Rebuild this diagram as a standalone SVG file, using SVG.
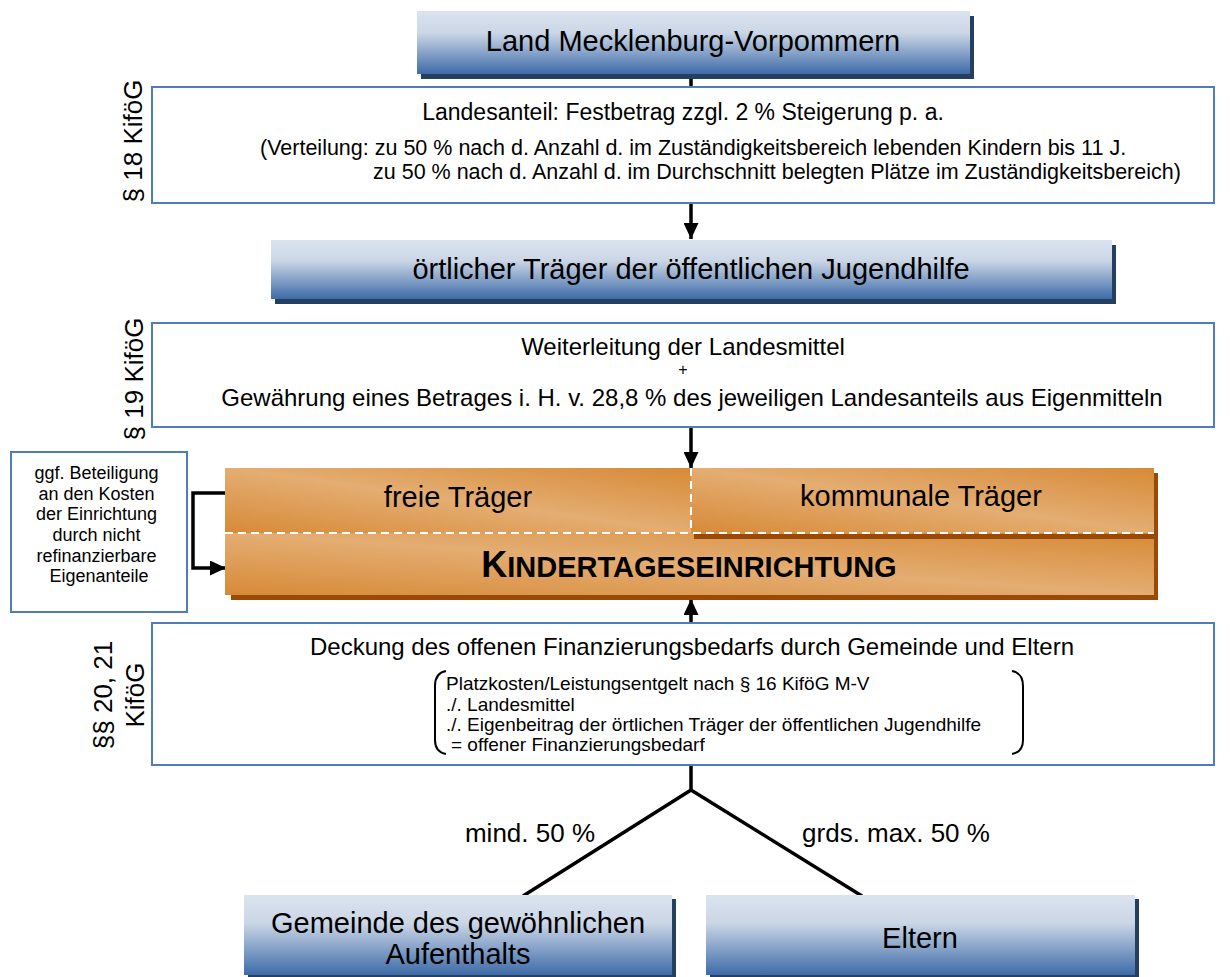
<svg xmlns="http://www.w3.org/2000/svg" width="1230" height="977" viewBox="0 0 1230 977">
<defs>
<linearGradient id="blue" x1="0" y1="0" x2="0" y2="1">
<stop offset="0" stop-color="#dbe3ef"/>
<stop offset="0.35" stop-color="#cbd6e6"/>
<stop offset="1" stop-color="#3d6ba8"/>
</linearGradient>
<linearGradient id="orange" x1="0" y1="1" x2="1" y2="0">
<stop offset="0" stop-color="#d78a37"/>
<stop offset="0.5" stop-color="#e4ad72"/>
<stop offset="1" stop-color="#d78a37"/>
</linearGradient>
<marker id="ah" viewBox="0 0 16 15" refX="16" refY="7.5" markerWidth="16" markerHeight="15" markerUnits="userSpaceOnUse" orient="auto">
<path d="M0,0 L16,7.5 L0,15 Z" fill="#000"/>
</marker>
<style>
text{font-family:"Liberation Sans",Arial,sans-serif;fill:#000}
.title{font-size:29px;text-anchor:middle}
.body{font-size:24px;text-anchor:middle}
.small{font-size:21.5px}
.side{font-size:26px;text-anchor:middle}
.box{fill:#fff;stroke:#4f7dba;stroke-width:2}
.shadowB{fill:#243f60}
.blue{fill:url(#blue)}
.or{fill:url(#orange)}
.shadowO{fill:#9a4a06}
.conn{stroke:#000;stroke-width:3.5;fill:none}
.dash{stroke:#fff;stroke-width:2;stroke-dasharray:8 5;fill:none}
.br{font-size:19px}
.paren{fill:none;stroke:#000;stroke-width:2}
</style>
</defs>

<g id="connectors">
<line class="conn" x1="691" y1="78" x2="691" y2="87"/>
<line class="conn" x1="691" y1="203" x2="691" y2="239" marker-end="url(#ah)"/>
<line class="conn" x1="691" y1="427" x2="691" y2="468" marker-end="url(#ah)"/>
<line class="conn" x1="691" y1="623" x2="691" y2="599" marker-end="url(#ah)"/>
<polyline class="conn" points="225,493 193,493 193,568 226,568" marker-end="url(#ah)"/>
<polyline class="conn" points="691,765 691,790 523,896"/>
<line class="conn" x1="691" y1="790" x2="862" y2="896"/>
</g>

<g id="land">
<rect class="shadowB" x="421" y="16" width="553" height="63"/>
<rect class="blue" x="417" y="11" width="553" height="63"/>
<text class="title" x="693" y="51">Land Mecklenburg-Vorpommern</text>
</g>

<g id="p18">
<rect class="box" x="152" y="87" width="1062" height="116"/>
<text class="body" x="683" y="120" style="font-size:23px">Landesanteil: Festbetrag zzgl. 2 % Steigerung p. a.</text>
<text class="small" x="260" y="155">(Verteilung: zu 50 % nach d. Anzahl d. im Zuständigkeitsbereich lebenden Kindern bis 11 J.</text>
<text class="small" x="373" y="179">zu 50 % nach d. Anzahl d. im Durchschnitt belegten Plätze im Zuständigkeitsbereich)</text>
<text class="side" transform="translate(142,141) rotate(-90)">§ 18 KiföG</text>
</g>

<g id="oertlich">
<rect class="shadowB" x="275" y="245" width="841" height="59"/>
<rect class="blue" x="271" y="240" width="841" height="59"/>
<text class="title" x="691" y="279">örtlicher Träger der öffentlichen Jugendhilfe</text>
</g>

<g id="p19">
<rect class="box" x="152" y="323" width="1062" height="104"/>
<text class="body" x="683" y="355">Weiterleitung der Landesmittel</text>
<text class="body" x="683" y="375" style="font-size:16px">+</text>
<text class="body" x="692" y="406">Gewährung eines Betrages i. H. v. 28,8 % des jeweiligen Landesanteils aus Eigenmitteln</text>
<text class="side" transform="translate(143,379) rotate(-90)">§ 19 KiföG</text>
</g>

<g id="ggf">
<rect class="box" x="11" y="452" width="176" height="160"/>
<text style="font-size:18px;text-anchor:middle">
<tspan x="99" y="479">ggf. Beteiligung</tspan>
<tspan x="99" y="500">an den Kosten</tspan>
<tspan x="99" y="520">der Einrichtung</tspan>
<tspan x="99" y="541">durch nicht</tspan>
<tspan x="99" y="562">refinanzierbare</tspan>
<tspan x="99" y="582">Eigenanteile</tspan>
</text>
</g>

<g id="kita">
<rect class="shadowO" x="231" y="473" width="927" height="127"/>
<rect class="or" x="225" y="468" width="466" height="65"/>
<rect class="or" x="691" y="468" width="463" height="65"/>
<rect class="or" x="225" y="533" width="929" height="62"/>
<rect class="shadowO" x="694" y="534" width="464" height="5"/>
<line class="dash" x1="225" y1="533" x2="1154" y2="533"/>
<line class="dash" x1="691" y1="468" x2="691" y2="533"/>
<text class="title" x="458" y="507">freie Träger</text>
<text class="title" x="921" y="506">kommunale Träger</text>
<text x="689" y="577" style="font-weight:bold;text-anchor:middle;font-size:29px"><tspan style="font-size:36px">K</tspan>INDERTAGESEINRICHTUNG</text>
</g>

<g id="p2021">
<rect class="box" x="152" y="623" width="1062" height="142"/>
<text class="body" x="692" y="655">Deckung des offenen Finanzierungsbedarfs durch Gemeinde und Eltern</text>
<path class="paren" d="M446,671 Q435,673 435,686 L435,740 Q435,752 446,754"/>
<path class="paren" d="M1012,671 Q1023,673 1023,686 L1023,740 Q1023,752 1012,754"/>
<text class="br">
<tspan x="446" y="690">Platzkosten/Leistungsentgelt nach § 16 KiföG M-V</tspan>
<tspan x="446" y="711">./. Landesmittel</tspan>
<tspan x="446" y="731">./. Eigenbeitrag der örtlichen Träger der öffentlichen Jugendhilfe</tspan>
<tspan x="451" y="751">= offener Finanzierungsbedarf</tspan>
</text>
<text class="side" transform="translate(112,695) rotate(-90)">§§ 20, 21</text>
<text class="side" transform="translate(144,695) rotate(-90)">KiföG</text>
</g>

<g id="labels">
<text class="side" x="530" y="842">mind. 50 %</text>
<text class="side" x="896" y="842">grds. max. 50 %</text>
</g>

<g id="gemeinde">
<rect class="shadowB" x="248" y="899" width="428" height="80"/>
<rect class="blue" x="244" y="895" width="428" height="80"/>
<text class="title" x="458" y="933">Gemeinde des gewöhnlichen</text>
<text class="title" x="458" y="964">Aufenthalts</text>
</g>

<g id="eltern">
<rect class="shadowB" x="710" y="899" width="429" height="80"/>
<rect class="blue" x="706" y="895" width="429" height="80"/>
<text class="title" x="920" y="948">Eltern</text>
</g>
</svg>
